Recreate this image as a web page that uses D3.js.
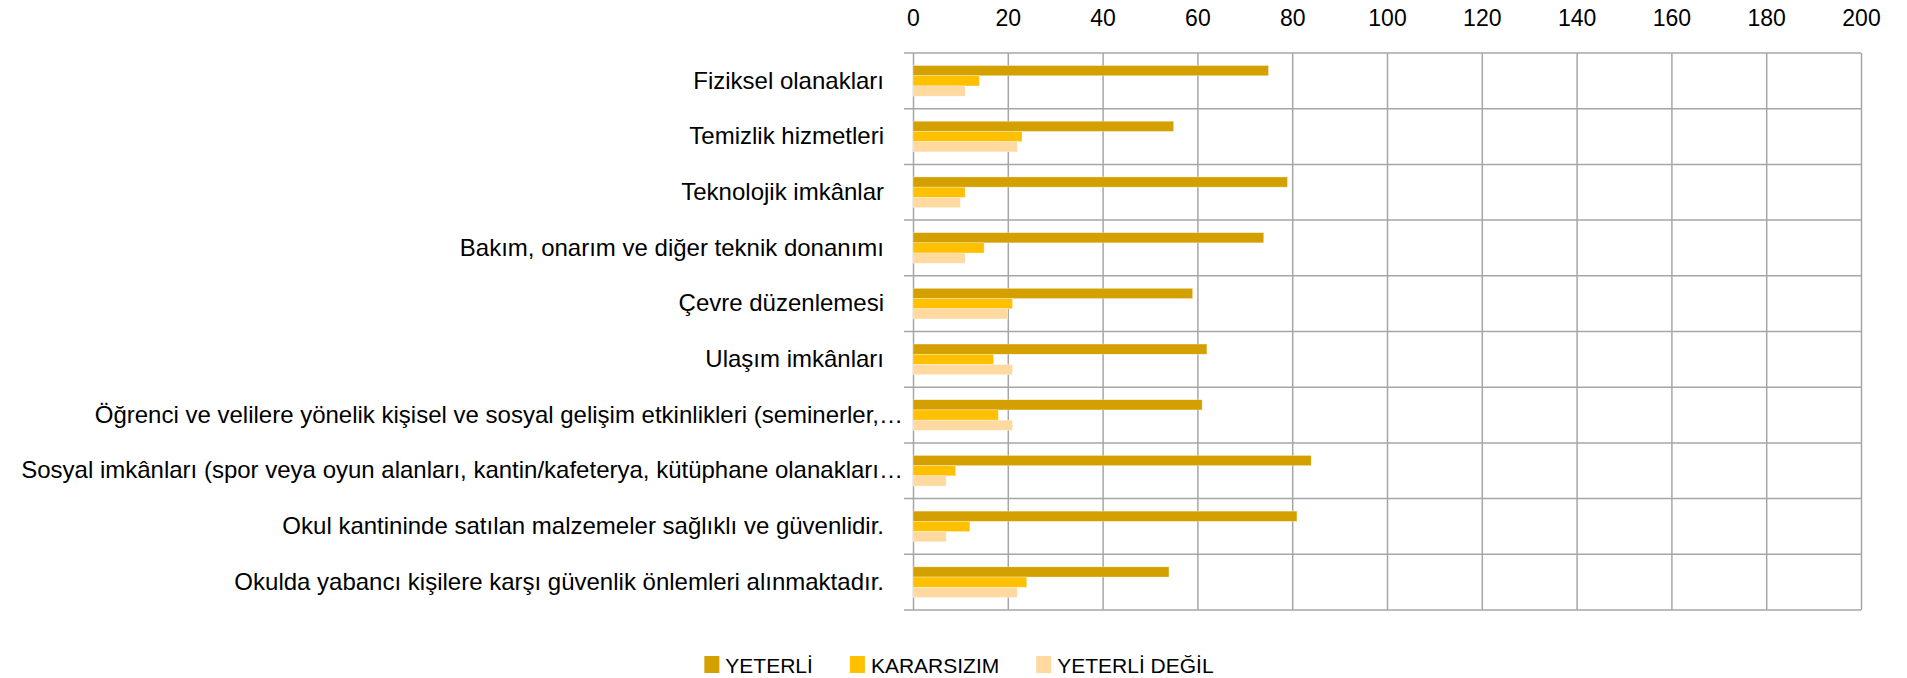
<!DOCTYPE html>
<html>
<head>
<meta charset="utf-8">
<script src="https://cdn.jsdelivr.net/npm/d3@7"></script>
<style>
  html, body { margin: 0; padding: 0; background: #fff; }
  svg { display: block; font-family: "Liberation Sans", Arial, sans-serif; }
  .grid line { stroke: #a6a6a6; stroke-width: 1.5; }
  .grid .domain { display: none; }
  .x-axis .domain, .y-axis .domain { display: none; }
  .x-axis text { font-size: 23px; fill: #000; }
  .y-axis text { font-size: 24px; fill: #000; }
  .legend text { font-size: 21px; fill: #000; }
</style>
</head>
<body>
<div id="chart"></div>
<script>
// categories, top to bottom
const categories = [
  "Fiziksel olanakları",
  "Temizlik hizmetleri",
  "Teknolojik imkânlar",
  "Bakım, onarım ve diğer teknik donanımı",
  "Çevre düzenlemesi",
  "Ulaşım imkânları",
  "Öğrenci ve velilere yönelik kişisel ve sosyal gelişim etkinlikleri (seminerler,…",
  "Sosyal imkânları (spor veya oyun alanları, kantin/kafeterya, kütüphane olanakları…",
  "Okul kantininde satılan malzemeler sağlıklı ve güvenlidir.",
  "Okulda yabancı kişilere karşı güvenlik önlemleri alınmaktadır."
];

const seriesNames = ["YETERLİ", "KARARSIZIM", "YETERLİ DEĞİL"];
const seriesColors = ["#d4a000", "#ffc000", "#ffd9a0"];

const yeterli      = [75, 55, 79, 74, 59, 62, 61, 84, 81, 54];
const kararsizim   = [14, 23, 11, 15, 21, 17, 18,  9, 12, 24];
const yeterliDegil = [11, 22, 10, 11, 20, 21, 21,  7,  7, 22];

const xTicks = [0, 20, 40, 60, 80, 100, 120, 140, 160, 180, 200];

const rows = categories.map((c, i) => ({
  category: c,
  values: [yeterli[i], kararsizim[i], yeterliDegil[i]]
}));

const config = {
  width: 1907,
  height: 678,
  margin: {top: 53, right: 46, bottom: 68, left: 913}
};
const innerW = config.width - config.margin.left - config.margin.right;
const innerH = config.height - config.margin.top - config.margin.bottom;

const svg = d3.select('#chart').append('svg')
    .attr('width', config.width)
    .attr('height', config.height);

const chart = svg.append('g')
    .attr('transform', `translate(${config.margin.left},${config.margin.top})`);

// scales
const xScale = d3.scaleLinear()
    .domain([xTicks[0], xTicks[xTicks.length - 1]])
    .range([0, innerW]);

const yScale = d3.scaleBand()
    .domain(categories)
    .range([0, innerH])
    .paddingInner(0.45)
    .paddingOuter(0.225);

const subScale = d3.scaleBand()
    .domain(seriesNames)
    .range([0, yScale.bandwidth()]);

const colorScale = d3.scaleOrdinal()
    .domain(seriesNames)
    .range(seriesColors);

// row boundaries
const rowLine = d3.scaleLinear()
    .domain([0, categories.length])
    .range([0, innerH]);

// vertical gridlines
chart.append('g')
    .attr('class', 'grid')
    .call(d3.axisTop(xScale).tickValues(xTicks).tickSize(-innerH).tickFormat(''));

// horizontal category separators with short tick stubs
chart.append('g')
    .attr('class', 'grid')
  .selectAll('line')
    .data(d3.range(categories.length + 1))
  .join('line')
    .attr('x1', -9)
    .attr('x2', innerW)
    .attr('y1', d => rowLine(d))
    .attr('y2', d => rowLine(d));

// x axis labels on top
chart.append('g')
    .attr('class', 'x-axis')
    .attr('transform', 'translate(0,-27)')
    .call(d3.axisTop(xScale).tickValues(xTicks).tickSize(0).tickPadding(0));

// category labels
const yAxisG = chart.append('g')
    .attr('class', 'y-axis')
    .call(d3.axisLeft(yScale).tickSize(0).tickPadding(29));
yAxisG.selectAll('text')
    .attr('dy', '0.32em')
    .attr('x', d => d.endsWith('…') ? -10 : -29);

// bars
const groups = chart.selectAll('.bar-group')
    .data(rows)
  .join('g')
    .attr('class', 'bar-group')
    .attr('transform', d => `translate(0,${yScale(d.category)})`);

groups.selectAll('rect')
    .data(d => d.values.map((v, i) => ({series: seriesNames[i], value: v})))
  .join('rect')
    .attr('x', xScale(0))
    .attr('y', d => subScale(d.series))
    .attr('width', d => xScale(d.value) - xScale(0))
    .attr('height', subScale.bandwidth())
    .attr('fill', d => colorScale(d.series))
    .attr('stroke', '#fff')
    .attr('stroke-opacity', 0.5)
    .attr('stroke-width', 0.6);

// legend
const legend = svg.append('g')
    .attr('class', 'legend')
    .attr('transform', 'translate(0,656)');

const items = legend.selectAll('g')
    .data(seriesNames)
  .join('g');

items.append('rect')
    .attr('width', 15)
    .attr('height', 17)
    .attr('fill', d => colorScale(d));

items.append('text')
    .attr('x', 21)
    .attr('y', 17)
    .text(d => d);

// lay legend items out side by side, centred
let offset = 0;
const gap = 37;
const widths = [];
items.each(function() { widths.push(this.getBBox().width); });
const total = d3.sum(widths) + gap * (widths.length - 1);
let start = 959 - total / 2;
items.attr('transform', (d, i) => {
  const x = start + offset;
  offset += widths[i] + gap;
  return `translate(${x},0)`;
});
</script>
</body>
</html>
